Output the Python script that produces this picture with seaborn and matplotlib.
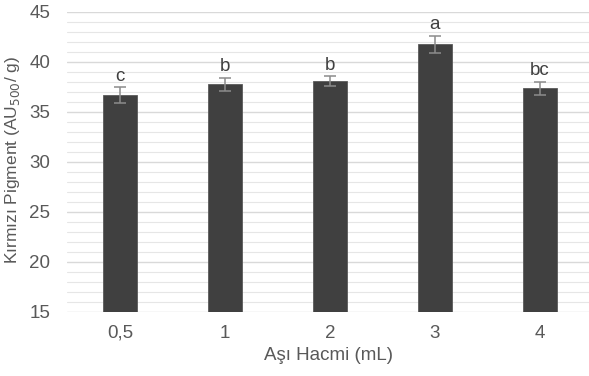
import matplotlib
matplotlib.use("Agg")
import matplotlib.pyplot as plt
import seaborn as sns
import pandas as pd
from matplotlib.ticker import MultipleLocator

# Inoculum volume groups and measured red pigment
volumes = ["0,5", "1", "2", "3", "4"]
pigment = [36.7, 37.8, 38.1, 41.8, 37.4]
std_err = [0.8, 0.65, 0.5, 0.85, 0.65]
groups = ["c", "b", "b", "a", "bc"]

sns.set_theme(style="white")
plt.rcParams["font.family"] = ["Liberation Sans", "DejaVu Sans"]

text_color = "#595959"
df = pd.DataFrame({"volume": volumes, "pigment": pigment})

fig = plt.figure(figsize=(5.89, 3.76), dpi=100)
ax = fig.add_axes([67 / 589, 1 - 312 / 376, 1 - 67 / 589, 300 / 376])

sns.barplot(data=df, x="volume", y="pigment", color="#404040", width=0.325,
            errorbar=None, saturation=1, ax=ax, zorder=3,
            edgecolor="#5a5a5a", linewidth=0.6)

xs = [p.get_x() + p.get_width() / 2 for p in ax.patches]
ax.errorbar(xs, pigment, yerr=std_err, fmt="none", ecolor="#8c8c8c",
            elinewidth=1.1, capsize=4, capthick=1.1, zorder=4)

for x, v, e, g in zip(xs, pigment, std_err, groups):
    ax.annotate(g, (x, v + e), xytext=(0, 1.5), textcoords="offset points",
                ha="center", va="bottom", fontsize=13.5, color="#404040")

ax.set_ylim(15, 45)
ax.set_xlim(-0.505, 4.467)
ax.yaxis.set_major_locator(MultipleLocator(5))
ax.yaxis.set_minor_locator(MultipleLocator(1))
ax.grid(axis="y", which="major", color="#d9d9d9", linewidth=1.0, zorder=0)
ax.grid(axis="y", which="minor", color="#e6e6e6", linewidth=0.8, zorder=0)
ax.set_axisbelow(True)
for s in ax.spines.values():
    s.set_visible(False)

ax.tick_params(axis="both", which="both", length=0, labelsize=13.5,
               labelcolor=text_color)
ax.tick_params(axis="y", pad=12)
ax.tick_params(axis="x", pad=9)

ax.set_xlabel("Aşı Hacmi (mL)", fontsize=13.5, color=text_color, labelpad=4)
ax.set_ylabel("")
fig.text(13 / 589, 1 - 160 / 376, "Kırmızı Pigment (AU$_{500}$/ g)",
         rotation=90, ha="center", va="center", fontsize=12.5,
         color=text_color)

fig.savefig("out.png", dpi=100, facecolor="white")
